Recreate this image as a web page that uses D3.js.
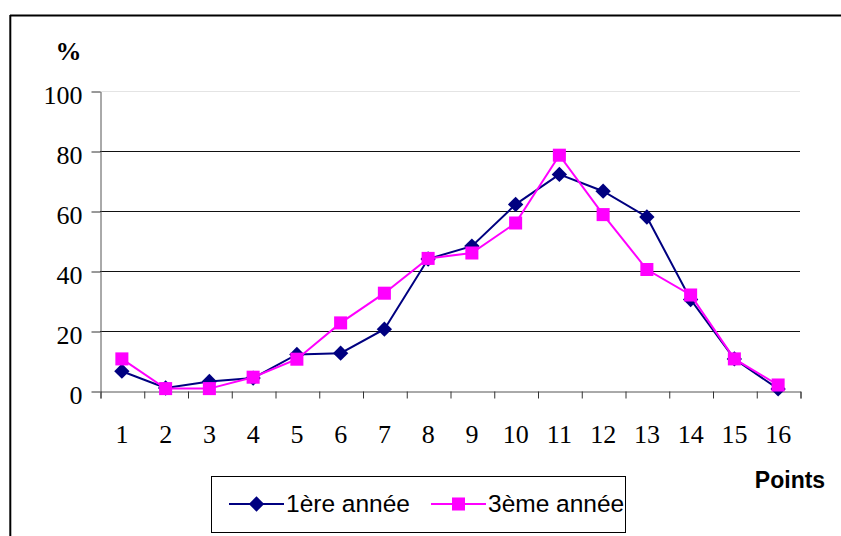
<!DOCTYPE html>
<html>
<head>
<meta charset="utf-8">
<script src="https://cdn.jsdelivr.net/npm/d3@7"></script>
<style>
  body { margin: 0; background: #fff; }
  svg { display: block; }
</style>
</head>
<body>
<div id="chart"></div>
<script>
const categories = ["1", "2", "3", "4", "5", "6", "7", "8", "9", "10", "11", "12", "13", "14", "15", "16"];
const firstYear = [6.6, 1, 3.2, 4.3, 12.2, 12.6, 20.6, 44, 48.3, 62.2, 72.2, 66.6, 58, 30.5, 10.7, 0.7];
const thirdYear = [10.7, 0.8, 0.8, 4.6, 10.6, 22.7, 32.6, 44.2, 46, 56, 78.6, 58.8, 40.5, 32, 10.7, 2];
const yTicks = [0, 20, 40, 60, 80, 100];
const seriesNames = ["1ère année", "3ème année"];
const yTitle = "%";
const xTitle = "Points";

const fullwidth = 841;
const fullheight = 536;
const navy = "#000080", magenta = "#ff00ff";
const serif = "Liberation Serif, Tinos, Times New Roman, Times, DejaVu Serif, serif";
const sans = "Liberation Sans, Arial, sans-serif";

const svg = d3.select("#chart")
  .append("svg")
  .attr("width", fullwidth)
  .attr("height", fullheight);

// outer frame (only top and left visible)
svg.append("line")
  .attr("x1", 10).attr("x2", fullwidth)
  .attr("y1", 15.5).attr("y2", 15.5)
  .attr("stroke", "#000").attr("stroke-width", 2);
svg.append("line")
  .attr("x1", 10.3).attr("x2", 10.3)
  .attr("y1", 15).attr("y2", fullheight)
  .attr("stroke", "#000").attr("stroke-width", 2);

const x = d3.scaleBand().domain(categories).range([100, 800]);
const xEdges = d3.scaleLinear().domain([0, categories.length]).range([100, 800]);
const y = d3.scaleLinear().domain([0, 100]).range([391, 91]);
const cx = d => x(d) + x.bandwidth() / 2;

// gridlines
svg.append("g")
  .selectAll("line")
  .data(yTicks.filter(t => t > 0))
  .enter().append("line")
  .attr("x1", 100).attr("x2", 800)
  .attr("y1", d => Math.round(y(d)) + 0.5)
  .attr("y2", d => Math.round(y(d)) + 0.5)
  .attr("stroke", d => d === 100 ? "#e4e4e4" : "#111")
  .attr("stroke-width", 1);

// y axis
const yAxis = svg.append("g")
  .attr("transform", "translate(100.5,0.5)")
  .call(d3.axisLeft(y).tickValues(yTicks).tickSize(9).tickSizeOuter(0));
yAxis.attr("font-family", serif).attr("font-size", 26);
yAxis.select(".domain").attr("stroke", "#555");
yAxis.selectAll(".tick line").attr("stroke", "#333");
yAxis.selectAll(".tick text")
  .attr("x", -18)
  .attr("dy", null)
  .attr("y", 12)
  .attr("fill", "#000");

// x axis tick marks at band edges
const xTickAxis = svg.append("g")
  .attr("transform", "translate(0.5,391.5)")
  .call(d3.axisBottom(xEdges).tickValues(d3.range(categories.length + 1)).tickSize(7).tickFormat(""));
xTickAxis.select(".domain").attr("stroke", "#555");
xTickAxis.selectAll(".tick line").attr("stroke", "#333");

// x labels at band centres
const xLabelAxis = svg.append("g")
  .attr("transform", "translate(0,391)")
  .call(d3.axisBottom(x).tickSize(0));
xLabelAxis.attr("font-family", serif).attr("font-size", 26);
xLabelAxis.select(".domain").remove();
xLabelAxis.selectAll(".tick text")
  .attr("dy", null)
  .attr("y", 52)
  .attr("fill", "#000");

// titles
svg.append("text")
  .attr("x", 68.5).attr("y", 60)
  .attr("text-anchor", "middle")
  .attr("font-family", serif)
  .attr("font-size", 26)
  .attr("font-weight", "bold")
  .text(yTitle);

svg.append("text")
  .attr("x", 790).attr("y", 488)
  .attr("text-anchor", "middle")
  .attr("font-family", sans)
  .attr("font-size", 23)
  .attr("font-weight", "bold")
  .text(xTitle);

// series
const line = d3.line().x((d, i) => cx(categories[i])).y(d => y(d));
const diamond = d3.symbol().type(d3.symbolDiamond2).size(150);
const square = d3.symbol().type(d3.symbolSquare).size(170);

svg.append("path")
  .datum(firstYear)
  .attr("fill", "none")
  .attr("stroke", navy)
  .attr("stroke-width", 2)
  .attr("d", line);

svg.append("g")
  .selectAll("path")
  .data(firstYear)
  .enter().append("path")
  .attr("transform", (d, i) => `translate(${cx(categories[i])},${y(d)})`)
  .attr("d", diamond)
  .attr("fill", navy);

svg.append("path")
  .datum(thirdYear)
  .attr("fill", "none")
  .attr("stroke", magenta)
  .attr("stroke-width", 2)
  .attr("d", line);

svg.append("g")
  .selectAll("path")
  .data(thirdYear)
  .enter().append("path")
  .attr("transform", (d, i) => `translate(${cx(categories[i])},${y(d)})`)
  .attr("d", square)
  .attr("fill", magenta);

// legend
const legend = svg.append("g").attr("class", "legend");
legend.append("rect")
  .attr("x", 211.5).attr("y", 476.5)
  .attr("width", 414).attr("height", 56)
  .attr("fill", "#fff")
  .attr("stroke", "#000")
  .attr("stroke-width", 1);

const legendItems = [
  { name: seriesNames[0], color: navy, symbol: diamond, x0: 229 },
  { name: seriesNames[1], color: magenta, symbol: square, x0: 431 }
];
legendItems.forEach(item => {
  legend.append("line")
    .attr("x1", item.x0).attr("x2", item.x0 + 55)
    .attr("y1", 504).attr("y2", 504)
    .attr("stroke", item.color)
    .attr("stroke-width", 2);
  legend.append("path")
    .attr("transform", `translate(${item.x0 + 27.5},504)`)
    .attr("d", item.symbol)
    .attr("fill", item.color);
  legend.append("text")
    .attr("x", item.x0 + 57).attr("y", 512)
    .attr("font-family", sans)
    .attr("font-size", 24.5)
    .text(item.name);
});
</script>
</body>
</html>
